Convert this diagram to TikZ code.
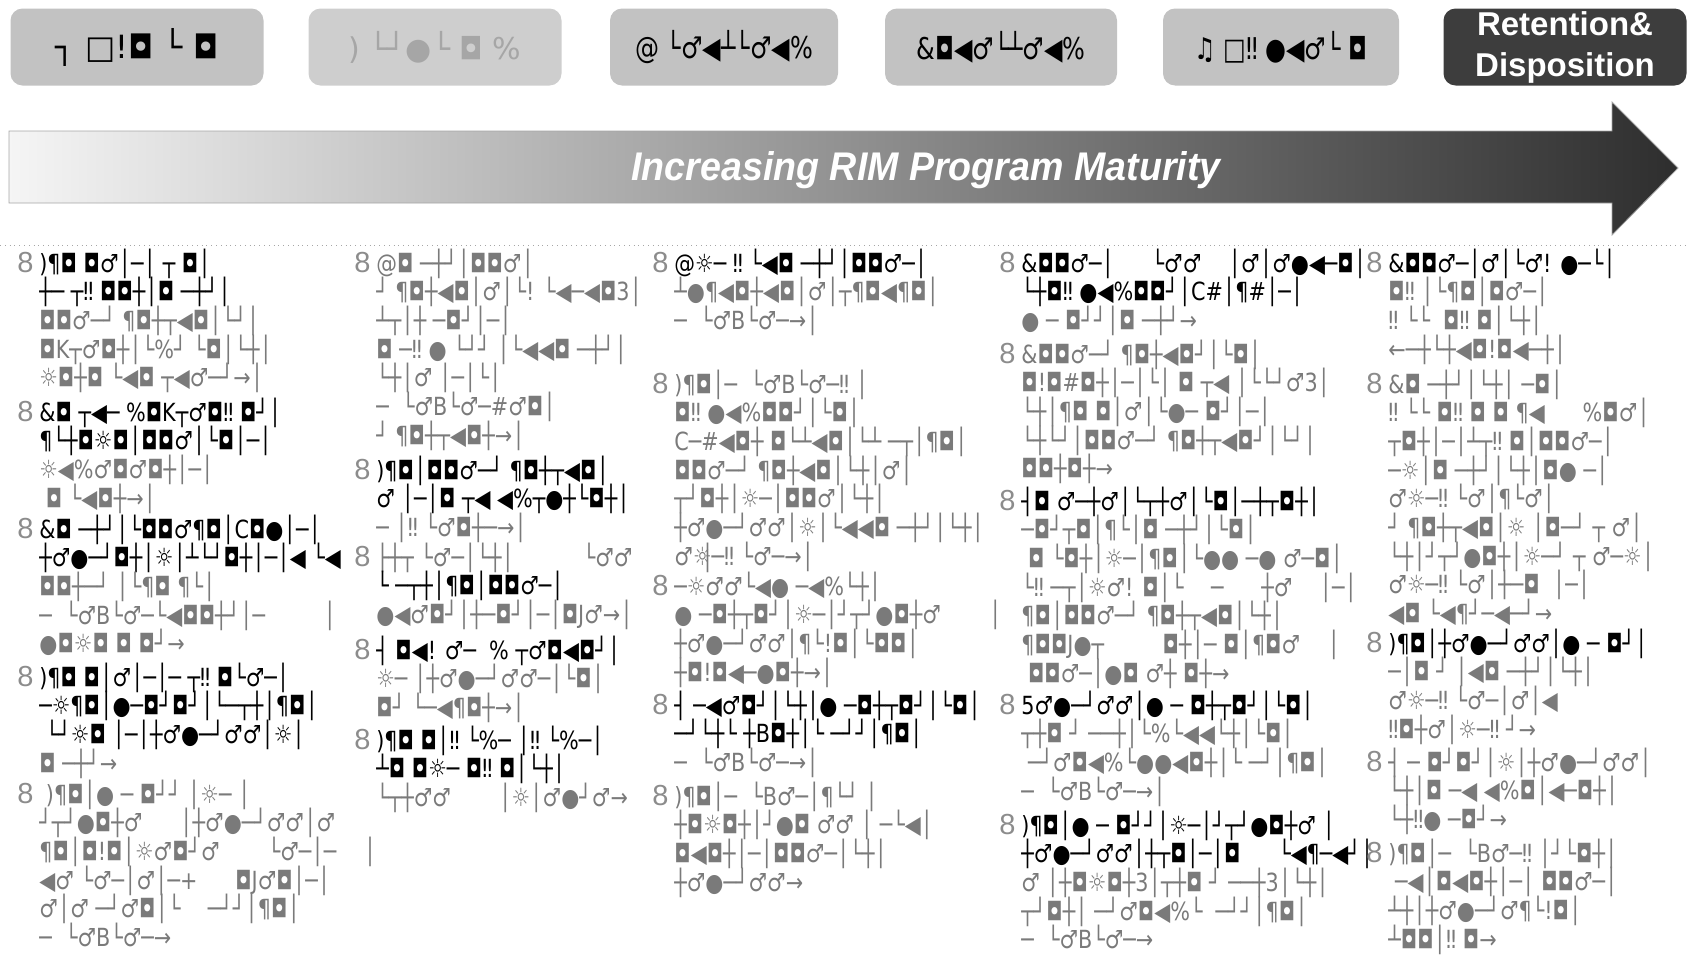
\documentclass[tikz,border=0pt]{standalone}
\usepackage{fontspec}
\setmainfont{DejaVu Sans}
\newfontfamily\arialfont{Liberation Sans}
\usetikzlibrary{calc,positioning,shapes}
\definecolor{boxgray}{gray}{0.76}
\definecolor{boxdark}{gray}{0.24}
\definecolor{inkgray}{gray}{0.48}
\newcommand{\bk}{\color{black}}
\newcommand{\narrow}[1]{\scalebox{0.83}[1]{#1}}
\tikzset{
  hdr/.style = {rectangle, rounded corners=6pt, fill=boxgray, minimum height=38.5pt, inner sep=0, font=\fontsize{15}{18}\selectfont},
  num/.style = {anchor=base west, inner sep=0, text=black!45, font=\arialfont\fontsize{14.5}{16}\selectfont},
  ln/.style = {anchor=base west, inner sep=0, text=inkgray, font=\fontsize{12.5}{14}\selectfont}
}

\begin{document}
\begin{tikzpicture}[x=0.5pt, y=-0.5pt]
  \useasboundingbox (0,0) rectangle (1689,959);

  % stage headers
  \node[hdr, minimum width=126.5pt, font=\fontsize{16}{18}\selectfont] (h1) at (137,47) {┐ □!◘ └ ◘};
  \node[hdr, minimum width=126.5pt, fill=boxgray!80, text=black!35] (h2) at (435,47) {) └┘●└ ◘ \%};
  \node[hdr, minimum width=114pt] (h3) at (724,47) {\scalebox{0.8}[1]{@ └♂◀┴└♂◀\%}};
  \node[hdr, minimum width=116pt] (h4) at (1001,47) {\scalebox{0.8}[1]{\&◘◀♂└┴♂◀\%}};
  \node[hdr, minimum width=118pt] (h5) at (1281,47) {\scalebox{0.8}[1]{♫ □‼ ●◀♂└ ◘}};
  \node[hdr, minimum width=121.5pt, fill=boxdark, text=white, align=center,
        font=\arialfont\bfseries\fontsize{16.5}{20.5}\selectfont] (h6) at (1565,47) {Retention\&\\Disposition};

  % maturity arrow
  \shade[left color=black!4, middle color=black!45, right color=black!82, draw=black!35]
    (9,131) -- (1612,131) -- (1612,102) -- (1678,168) -- (1612,235) -- (1612,203) -- (9,203) -- cycle;
  \node[text=white, font=\arialfont\bfseries\itshape\fontsize{20}{24}\selectfont] (mat) at (926,170)
    {\scalebox{0.94}[1]{Increasing RIM Program Maturity}};
  \draw[black!35, dotted] (0,245) -- (1689,245);

  % column 1
  \node[num] (a1) at (17,272) {8};
  \foreach \t [count=\k from 0] in {{\bk )¶◘ ◘♂│─│ ┬ ◘│},{\bk ┼─ ┬‼ ◘◘┼│◘ ─┼┘│},{◘◘♂─┘ ¶◘┼┬◀◘│└┘│},{◘K┬♂◘┼│└\%┘ └◘│└┼│},{☼◘┼◘ └◀◘ ┬◀♂─┘→│}}
    \node[ln] (a1l\k) at ($(a1.base west)+(22,\k*28.7)$) {\narrow{\t}};
  \node[num] (a2) at (17,421) {8};
  \foreach \t [count=\k from 0] in {{\bk \&◘ ┬◀─ \%◘K┬♂◘‼ ◘┘│},{\bk ¶└┼◘☼◘│◘◘♂│└◘│─│},{☼◀\%♂◘♂◘┼│─│},{\ ◘ └◀◘┼→│}}
    \node[ln] (a2l\k) at ($(a2.base west)+(22,\k*28.7)$) {\narrow{\t}};
  \node[num] (a3) at (17,538) {8};
  \foreach \t [count=\k from 0] in {{\bk \&◘ ─┼┘│└◘◘♂¶◘│C◘●│─│},{\bk ┼♂●─┘◘┼│☼│┴└┘◘┼│─│◀ └◀},{◘◘┼─┘ │└¶◘ ¶└│},{─ \ └♂B└♂─└◀◘◘┼┘│─ \hspace{2.5em}│},{●◘☼◘ ◘ ◘┘→}}
    \node[ln] (a3l\k) at ($(a3.base west)+(22,\k*28.7)$) {\narrow{\t}};
  \node[num] (a4) at (17,686) {8};
  \foreach \t [count=\k from 0] in {{\bk )¶◘ ◘│♂│─│─ ┬‼ ◘└♂─│},{\bk ─☼¶◘│●─◘┘◘┘│└─┬┼│¶◘│},{\bk \ └┘☼◘ │─│┼♂●─┘♂♂│☼│},{◘ ─┼┘→}}
    \node[ln] (a4l\k) at ($(a4.base west)+(22,\k*28.7)$) {\narrow{\t}};
  \node[num] (a5) at (17,803) {8};
  \foreach \t [count=\k from 0] in {{\ )¶◘│● ─ ◘┘┘ │☼─ │},{┘┬┘●◘┼♂ \hspace{1.5em}│┼♂●─┘♂♂│♂},{¶◘│◘!◘│☼♂◘┘♂ \hspace{2em}└♂─│─ \hspace{1em}│},{◀♂ └♂─│♂│─+ \hspace{1.5em}◘J♂◘│─│},{♂│♂ ─┘♂◘│└ \hspace{1em}─┘┘│¶◘│},{─ \ └♂B└♂─→}}
    \node[ln] (a5l\k) at ($(a5.base west)+(22,\k*28.7)$) {\narrow{\t}};

  % column 2
  \node[num] (b1) at (354,272) {8};
  \foreach \t [count=\k from 0] in {{@◘ ─┼┘│◘◘♂│},{┘ ¶◘┼◀◘│♂│└! └◀─◀◘3│},{┴┬│┼ ─◘┘│─│},{◘ ─‼ ● └┘┘ │└◀◀◘ ─┼┘│},{└┼│♂ │─│└│},{─ \ └♂B└♂─\#♂◘│},{┘ ¶◘┼┬◀◘┼→│}}
    \node[ln] (b1l\k) at ($(b1.base west)+(22,\k*28.7)$) {\narrow{\t}};
  \node[num] (b2) at (354,479) {8};
  \foreach \t [count=\k from 0] in {{\bk )¶◘│◘◘♂─┘ ¶◘┼┬◀◘│},{\bk ♂ │─│◘ ┬◀ ◀\%┬●┼└◘┼│},{─ │‼ └♂◘┼─→│}}
    \node[ln] (b2l\k) at ($(b2.base west)+(22,\k*28.7)$) {\narrow{\t}};
  \node[num] (b3) at (354,566) {8};
  \foreach \t [count=\k from 0] in {{├┼┬ └♂─│└┼│ \hspace{3em}└♂♂ \hspace{3em}│},{\bk └ ─┬┼│¶◘│◘◘♂─│},{●◀♂◘┘│┼─◘┘│─│◘J♂→│}}
    \node[ln] (b3l\k) at ($(b3.base west)+(22,\k*28.7)$) {\narrow{\t}};
  \node[num] (b4) at (354,659) {8};
  \foreach \t [count=\k from 0] in {{\bk ┤ ◘◀! ♂─ \ \% ┬♂◘◀◘┘│},{☼─ │┼♂●─┘♂♂─│└◘│},{◘┘ └─◀¶◘┼→│}}
    \node[ln] (b4l\k) at ($(b4.base west)+(22,\k*28.7)$) {\narrow{\t}};
  \node[num] (b5) at (354,749) {8};
  \foreach \t [count=\k from 0] in {{\bk )¶◘ ◘│‼ └\%─ │‼ └\%─│},{\bk ┴◘ ◘☼─ ◘‼ ◘│└┼│},{└┬┼♂♂ \hspace{2em}│☼│♂●┘♂→}}
    \node[ln] (b5l\k) at ($(b5.base west)+(22,\k*28.7)$) {\narrow{\t}};

  % column 3
  \node[num] (c1) at (652,272) {8};
  \foreach \t [count=\k from 0] in {{\bk @☼─ ‼ └◀◘ ─┼┘│◘◘♂─│},{┴●¶◀◘┼◀◘│♂│┬¶◘◀¶◘│},{─ \ └♂B└♂─→│}}
    \node[ln] (c1l\k) at ($(c1.base west)+(22,\k*28.7)$) {\narrow{\t}};
  \node[num] (c2) at (652,393) {8};
  \foreach \t [count=\k from 0] in {{)¶◘│─ \ └♂B└♂─‼ │},{◘‼ ●◀\%◘◘┘│└◘│},{C─\#◀◘┼ ◘└┴◀◘│└┴ ─┬│¶◘│},{◘◘♂─┘ ¶◘┼◀◘│└┼│♂│},{┬┘◘┼│☼─│◘◘♂│└┼│},{┼♂●─┘♂♂│☼│└◀◀◘ ─┼┘│└┼│},{♂☼─‼ └♂─→│}}
    \node[ln] (c2l\k) at ($(c2.base west)+(22,\k*28.7)$) {\narrow{\t}};
  \node[num] (c3) at (652,595) {8};
  \foreach \t [count=\k from 0] in {{─☼♂♂└◀● ─◀\%└┼│},{● ─◘┼┬◘┘│☼─│┘┬┘●◘┼♂ \hspace{2em}│},{┼♂●─┘♂♂│¶└!◘│└◘◘│},{┼◘!◘◀─●◘┼→│}}
    \node[ln] (c3l\k) at ($(c3.base west)+(22,\k*28.7)$) {\narrow{\t}};
  \node[num] (c4) at (652,714) {8};
  \foreach \t [count=\k from 0] in {{\bk ┤ ─◀♂◘┘│└┼│● ─◘┼┬◘┘│└◘│},{\bk ─┘└┼└ ┼B◘┼│└ ─┘┘│¶◘│},{─ \ └♂B└♂─→│}}
    \node[ln] (c4l\k) at ($(c4.base west)+(22,\k*28.7)$) {\narrow{\t}};
  \node[num] (c5) at (652,805) {8};
  \foreach \t [count=\k from 0] in {{)¶◘│─ \ └B♂─│¶└┘ │},{┼◘☼◘┼│┘●◘ ♂♂ │ ─└◀│},{◘◀◘┼│─│◘◘♂─│└┼│},{┼♂●─┘♂♂→}}
    \node[ln] (c5l\k) at ($(c5.base west)+(22,\k*28.7)$) {\narrow{\t}};

  % column 4
  \node[num] (d1) at (999,272) {8};
  \foreach \t [count=\k from 0] in {{\bk \&◘◘♂─│ \hspace{1.5em}└♂♂ \hspace{1em}│♂│♂●◀─◘│},{\bk └┼◘‼ ●◀\%◘◘┘│C\#│¶\#│─│},{● ─ ◘┘┘│◘ ─┼┘→}}
    \node[ln] (d1l\k) at ($(d1.base west)+(22,\k*28.7)$) {\narrow{\t}};
  \node[num] (d2) at (999,363) {8};
  \foreach \t [count=\k from 0] in {{\&◘◘♂─┘ ¶◘┼◀◘┘│└◘│},{◘!◘\#◘┼│─│└│ ◘ ┬◀ │└└┘♂3│},{└┼│¶◘ ◘│♂│└●─ ◘┘│─│},{└┼└┘│◘◘♂─┘ ¶◘┼┬◀◘┘│└┘│},{◘◘┼◘┼→}}
    \node[ln] (d2l\k) at ($(d2.base west)+(22,\k*28.7)$) {\narrow{\t}};
  \node[num] (d3) at (999,510) {8};
  \foreach \t [count=\k from 0] in {{\bk ┤◘ ♂─┼♂│└┬┼♂│└◘│─┼┬◘┼│},{─◘┘┬◘│¶└│◘ ─┼┘│└◘│},{\ ◘ └◘┼│☼─│¶◘│└●● ─● ♂─◘│},{└‼ ─┬│☼♂! ◘│└ \hspace{1em}─ \hspace{1.5em}┼♂ \hspace{1em}│─│},{¶◘│◘◘♂─┘ ¶◘┼┬◀◘│└┼│},{¶◘◘J●┬ \hspace{2.5em}◘┼│─ ◘│¶◘♂ \hspace{1em}│},{\ ◘◘♂─│●◘ ♂┼ ◘┼→}}
    \node[ln] (d3l\k) at ($(d3.base west)+(22,\k*28.7)$) {\narrow{\t}};
  \node[num] (d4) at (999,714) {8};
  \foreach \t [count=\k from 0] in {{\bk 5♂●─┘♂♂│● ─ ◘┼┬◘┘│└◘│},{┬┼◘ ┘ ──┼│└\%└◀◀└┼│└◘│},{\ ─┘♂◘◀\%└●●◀◘┼│└ ─┘│¶◘│},{─ \ └♂B└♂─→│}}
    \node[ln] (d4l\k) at ($(d4.base west)+(22,\k*28.7)$) {\narrow{\t}};
  \node[num] (d5) at (999,834) {8};
  \foreach \t [count=\k from 0] in {{\bk )¶◘│● ─ ◘┘┘│☼─│┘┬┘●◘┼♂ │},{\bk ┼♂●─┘♂♂│┼┬◘│─│◘ \hspace{1.5em}└◀¶─◀┘│},{♂ │┼◘☼◘┼3│┬┼◘ ┘ ──┼3│└┼│},{┬┘◘┼│ ─┘♂◘◀\%└ \ ─┘┘│¶◘│},{─ \ └♂B└♂─→}}
    \node[ln] (d5l\k) at ($(d5.base west)+(22,\k*28.7)$) {\narrow{\t}};

  % column 5
  \node[num] (e1) at (1366,272) {8};
  \foreach \t [count=\k from 0] in {{\bk \&◘◘♂─│♂│└♂! ●─└│},{◘‼ │└¶◘│◘♂─│},{‼ └└ \ ◘‼ ◘│└┼│},{←─┼└┼◀◘!◘◀─┼│}}
    \node[ln] (e1l\k) at ($(e1.base west)+(22,\k*28.7)$) {\narrow{\t}};
  \node[num] (e2) at (1366,393) {8};
  \foreach \t [count=\k from 0] in {{\&◘ ─┼┘│└┼│ ─◘│},{‼ └└ ◘‼ ◘ ◘ ¶◀ \hspace{1.5em}\%◘♂│},{┬◘┼│─│┴┬‼ ◘│◘◘♂─│},{─☼│◘ ─┼┘│└┼│◘● ─│},{♂☼─‼ └♂│¶└♂│},{┘ ¶◘┼┬◀◘│☼ │◘─┘ ┬ ♂│},{└┼│┘┬┘●◘┼│☼─┘ ┬ ♂─☼│},{♂☼─‼ └♂│┼─◘ \ │─│},{◀◘ └◀¶┘─◀─┘→}}
    \node[ln] (e2l\k) at ($(e2.base west)+(22,\k*28.7)$) {\narrow{\t}};
  \node[num] (e3) at (1366,652) {8};
  \foreach \t [count=\k from 0] in {{\bk )¶◘│┼♂●─┘♂♂│● ─ ◘┘│},{─│◘ ┘ │◀◘ ─┼┘│└┼│},{♂☼─‼ └♂─│♂│◀},{‼◘┼♂│☼─‼ ┘→}}
    \node[ln] (e3l\k) at ($(e3.base west)+(22,\k*28.7)$) {\narrow{\t}};
  \node[num] (e4) at (1366,771) {8};
  \foreach \t [count=\k from 0] in {{┤ ─ ◘┘◘┘│☼│┼♂●─┘♂♂│},{└┼│◘ ─◀ ◀\%◘│◀─◘┼│},{└┼‼● ─◘┘→}}
    \node[ln] (e4l\k) at ($(e4.base west)+(22,\k*28.7)$) {\narrow{\t}};
  \node[num] (e5) at (1366,862) {8};
  \foreach \t [count=\k from 0] in {{)¶◘│─ \ └B♂─‼ │┘└◘┼│},{\ ─◀│◘◀◘┼│─│ ◘◘♂─│},{┴┼│┼♂●─┘♂¶└!◘│},{┴◘◘│‼ ◘→}}
    \node[ln] (e5l\k) at ($(e5.base west)+(22,\k*28.7)$) {\narrow{\t}};
\end{tikzpicture}
\end{document}
